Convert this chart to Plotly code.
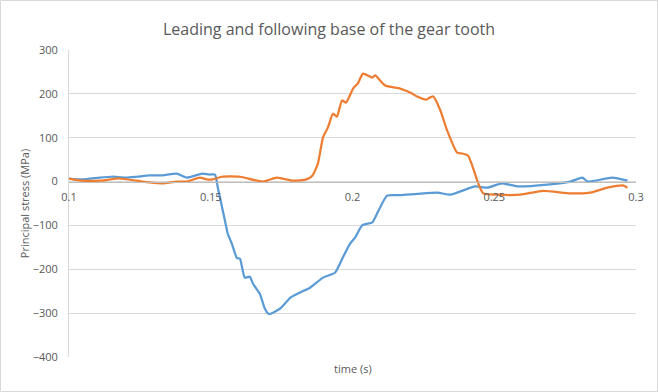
import plotly.graph_objects as go

# Leading base (blue)
lead_t = [0.1000, 0.1048, 0.1108, 0.1150, 0.1200, 0.1239, 0.1284, 0.1330, 0.1380, 0.1415,
          0.1470, 0.1495, 0.1515, 0.1525, 0.1550, 0.1560, 0.1574, 0.1592, 0.1603, 0.1620,
          0.1638, 0.1649, 0.1673, 0.1691, 0.1705, 0.1744, 0.1762, 0.1780, 0.1815, 0.1850,
          0.1896, 0.1938, 0.1966, 0.1991, 0.2009, 0.2034, 0.2070, 0.2080, 0.2122, 0.2168,
          0.2228, 0.2299, 0.2345, 0.2433, 0.2475, 0.2528, 0.2581, 0.2687, 0.2769, 0.2811,
          0.2829, 0.2917, 0.2970]
lead_s = [7, 5, 9, 11, 9, 11, 14, 14, 18, 9,
          18, 16, 16, -14, -89, -119, -141, -174, -176, -219,
          -217, -233, -256, -290, -302, -290, -278, -265, -253, -242,
          -219, -208, -173, -142, -128, -100, -93, -82, -32, -31,
          -28, -25, -30, -11, -14, -4, -11, -7, 0, 9,
          0, 9, 2]

# Following base (orange)
follow_t = [0.1000, 0.1048, 0.1108, 0.1178, 0.1239, 0.1284, 0.1330, 0.1380, 0.1415, 0.1461,
            0.1486, 0.1507, 0.1539, 0.1603, 0.1684, 0.1733, 0.1790, 0.1837, 0.1859, 0.1878,
            0.1896, 0.1913, 0.1931, 0.1945, 0.1963, 0.1977, 0.2002, 0.2019, 0.2037, 0.2070,
            0.2080, 0.2115, 0.2168, 0.2203, 0.2228, 0.2260, 0.2274, 0.2285, 0.2310, 0.2334,
            0.2369, 0.2387, 0.2408, 0.2422, 0.2444, 0.2461, 0.2511, 0.2592, 0.2673, 0.2769,
            0.2839, 0.2899, 0.2956, 0.2970]
follow_s = [7, 2, 2, 7, 2, -2, -4, 0, 0, 9,
            5, 5, 11, 11, 0, 9, 2, 5, 14, 41,
            101, 123, 155, 148, 185, 180, 212, 224, 246, 237,
            242, 219, 212, 203, 194, 187, 192, 194, 162, 116,
            66, 64, 59, 37, -5, -27, -30, -30, -21, -27,
            -25, -14, -9, -14]

x_ticks = [0.1, 0.15, 0.2, 0.25, 0.3]
x_tick_labels = ["0.1", "0.15", "0.2", "0.25", "0.3"]
y_ticks = [300, 200, 100, 0, -100, -200, -300, -400]

FONT = "Open Sans"
fig = go.Figure()
fig.add_trace(go.Scatter(x=lead_t, y=lead_s, mode="lines",
                         line=dict(color="#5B9BD5", width=2.25, shape="spline", smoothing=0.5),
                         name="Leading base"))
fig.add_trace(go.Scatter(x=follow_t, y=follow_s, mode="lines",
                         line=dict(color="#ED7D31", width=2.25, shape="spline", smoothing=0.5),
                         name="Following base"))

W, H = 658, 392
L, R, T, B = 69, 22, 50, 35
pw, ph = W - L - R, H - T - B

fig.update_layout(
    width=W, height=H,
    margin=dict(l=L, r=R, t=T, b=B, autoexpand=False),
    paper_bgcolor="white", plot_bgcolor="white",
    showlegend=False,
    font=dict(family=FONT, color="#595959", size=11),
    title=dict(text="Leading and following base of the gear tooth",
               x=0.5, xref="container", xanchor="center", yref="container",
               y=1 - 29 / H, yanchor="middle",
               font=dict(family=FONT, size=16, color="#595959")),
    xaxis=dict(range=[0.1, 0.3], tickvals=x_ticks, ticktext=x_tick_labels,
               showgrid=False, zeroline=False, showline=True, linecolor="#BFBFBF", linewidth=1,
               anchor="free", position=4 / 7, ticks="", automargin=False,
               ticklabelstandoff=5,
               tickfont=dict(size=11, color="#595959")),
    yaxis=dict(range=[-400, 300], tickvals=y_ticks, showgrid=True, gridcolor="#D9D9D9",
               gridwidth=1, zeroline=False, showline=True, linecolor="#D9D9D9", ticks="",
               automargin=False, ticklabelstandoff=8,
               tickfont=dict(size=11, color="#595959"),
               title=dict(text="Principal stress (MPa)", font=dict(size=11, color="#595959"),
                          standoff=0)),
)
fig.add_annotation(text="time (s)", xref="paper", yref="paper", x=(353 - L) / pw,
                   y=-(368 - (H - B)) / ph, showarrow=False, xanchor="center", yanchor="middle",
                   font=dict(family=FONT, size=11, color="#595959"))
fig.add_shape(type="rect", xref="paper", yref="paper",
              x0=(-L + 0.5) / pw, x1=(W - L - 0.5) / pw,
              y0=-(B - 0.5) / ph, y1=1 + (T - 0.5) / ph,
              line=dict(color="#D9D9D9", width=1), layer="below")
fig.write_html("out.html", config={"displayModeBar": False},
               post_script="document.body.style.margin='0';")
